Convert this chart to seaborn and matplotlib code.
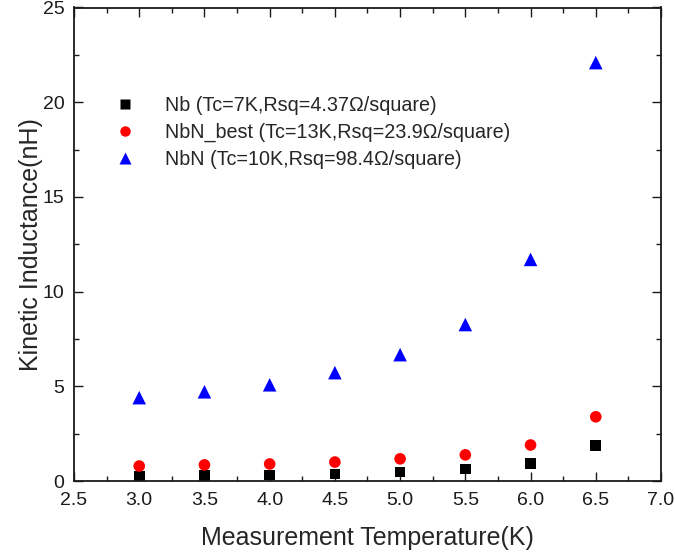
import matplotlib
matplotlib.use("Agg")
import matplotlib.pyplot as plt
import seaborn as sns
import pandas as pd
from matplotlib.ticker import MultipleLocator, FormatStrFormatter

temps = [3.0, 3.5, 4.0, 4.5, 5.0, 5.5, 6.0, 6.5]
nb = [0.26, 0.28, 0.32, 0.37, 0.47, 0.63, 0.92, 1.87]
nbn_best = [0.79, 0.85, 0.90, 1.00, 1.17, 1.38, 1.90, 3.39]
nbn = [4.40, 4.71, 5.08, 5.72, 6.67, 8.26, 11.70, 22.09]
labels = ["Nb (Tc=7K,Rsq=4.37\u03a9/square)",
          "NbN_best (Tc=13K,Rsq=23.9\u03a9/square)",
          "NbN (Tc=10K,Rsq=98.4\u03a9/square)"]

df = pd.DataFrame({
    "T": temps * 3,
    "L": nb + nbn_best + nbn,
    "S": [labels[0]] * 8 + [labels[1]] * 8 + [labels[2]] * 8,
})

sns.set_style("ticks")
plt.rcParams['font.family'] = ['Liberation Sans', 'DejaVu Sans']

fig = plt.figure(figsize=(6.75, 5.56), dpi=100)
ax = fig.add_axes([74/675, 1 - 481/556, 587/675, 473.5/556])

sns.scatterplot(data=df, x="T", y="L", hue="S", style="S", size="S",
                palette={labels[0]: "black", labels[1]: "red", labels[2]: "blue"},
                markers={labels[0]: "s", labels[1]: "o", labels[2]: "^"},
                sizes={labels[0]: 60, labels[1]: 70, labels[2]: 95},
                edgecolor="none", ax=ax, legend=True)

ax.set_xlim(2.5, 7.0)
ax.set_ylim(0, 25)
ax.xaxis.set_major_locator(MultipleLocator(0.5))
ax.xaxis.set_minor_locator(MultipleLocator(0.25))
ax.yaxis.set_major_locator(MultipleLocator(5))
ax.yaxis.set_minor_locator(MultipleLocator(2.5))
ax.xaxis.set_major_formatter(FormatStrFormatter('%.1f'))
ax.tick_params(which="both", direction="in", top=True, right=True, labelsize=14,
               colors="#1a1a1a")
ax.tick_params(which="major", length=6.5, width=1)
ax.tick_params(which="minor", length=3.8, width=1)
ax.tick_params(axis="x", pad=8)
ax.tick_params(axis="y", pad=7)
for sp in ax.spines.values():
    sp.set_visible(True)
    sp.set_linewidth(1.3)
    sp.set_color("#1a1a1a")

ax.set_xlabel("Measurement Temperature(K)", fontsize=18, labelpad=12)
ax.set_ylabel("Kinetic Inductance(nH)", fontsize=18, labelpad=0)

leg = ax.legend(loc="upper left", bbox_to_anchor=(0.04, 0.83), frameon=False,
                fontsize=14.2, handletextpad=1.0, labelspacing=0.4, markerscale=0.9,
                borderaxespad=0)

fig.savefig("out.png", dpi=100)
